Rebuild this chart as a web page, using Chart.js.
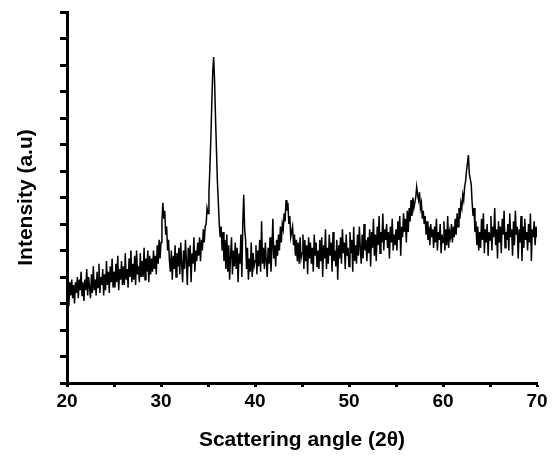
<!DOCTYPE html>
<html>
<head>
<meta charset="utf-8">
<script src="https://cdn.jsdelivr.net/npm/chart.js@4/dist/chart.umd.min.js"></script>
<style>
    html, body { margin: 0; padding: 0; background: #fff; }
    #wrap { width: 559px; height: 456px; }
</style>
</head>
<body>
<div id="wrap"><canvas id="xrdChart"></canvas></div>
<script>
// XRD pattern, one value every 0.1 degree from 20 to 70
const angleStart = 20;
const angleStep = 0.1;
const xTickLabels = [20, 30, 40, 50, 60, 70];

const intensity = [
    // 20
    3.1, 3.6, 2.9, 3.8, 3.3, 3.9, 3.2, 3.7, 3.0, 3.8,
    3.4, 4.0, 3.2, 3.9, 3.5, 4.2, 3.3, 3.8, 3.1, 3.9,
    3.5, 4.3, 3.3, 4.0, 3.6, 3.2, 4.1, 3.4, 4.4, 3.5,
    3.9, 3.3, 4.2, 3.6, 4.5, 3.4, 4.0, 3.7, 4.3, 3.3,
    4.1, 3.5, 4.6, 3.7, 4.2, 3.4, 4.4, 3.8, 4.7, 3.6,
    // 25
    4.2, 3.6, 4.5, 3.8, 4.8, 3.5, 4.3, 3.9, 4.6, 3.7,
    4.4, 3.7, 4.9, 3.9, 4.3, 3.6, 4.7, 4.0, 5.0, 3.8,
    4.5, 3.9, 4.8, 3.7, 5.0, 4.1, 4.4, 3.8, 4.9, 4.0,
    4.6, 4.0, 5.1, 3.9, 4.7, 4.2, 5.0, 3.8, 4.8, 4.1,
    4.7, 4.2, 5.0, 4.3, 4.8, 4.1, 5.2, 4.5, 5.4, 4.7,
    // 30
    5.3, 6.1, 6.8, 6.2, 6.5, 5.6, 5.9, 5.0, 5.4, 4.6,
    4.2, 5.0, 3.9, 4.8, 4.3, 5.2, 4.0, 4.9, 4.4, 5.1,
    4.1, 5.3, 4.5, 3.8, 5.0, 4.3, 5.4, 4.6, 3.7, 5.1,
    4.4, 5.2, 3.8, 4.9, 4.5, 5.5, 4.2, 5.0, 4.6, 5.3,
    4.8, 5.5, 4.6, 5.4, 5.0, 5.8, 5.3, 5.9, 6.0, 6.6,
    // 35
    6.4, 7.2, 8.1, 9.2, 10.5, 11.7, 12.3, 11.4, 10.0, 8.8,
    7.6, 6.8, 6.0, 5.5, 5.9, 5.0, 5.7, 4.6, 5.4, 4.3,
    5.6, 4.2, 5.2, 3.9, 4.8, 5.5, 4.1, 5.0, 4.4, 5.3,
    4.3, 5.1, 3.8, 4.9, 4.5, 5.6, 4.0, 6.0, 7.1, 5.8,
    5.4, 4.3, 5.1, 3.9, 4.7, 4.2, 5.3, 4.0, 4.9, 4.4,
    // 40
    4.6, 5.2, 4.1, 5.0, 4.4, 5.4, 4.2, 6.1, 4.5, 5.1,
    4.3, 5.3, 4.6, 4.0, 5.1, 4.5, 5.5, 4.2, 5.0, 6.2,
    4.7, 5.2, 4.4, 5.4, 4.8, 5.6, 5.0, 5.9, 5.3, 6.0,
    5.8, 6.4, 6.1, 6.9, 6.5, 6.8, 6.0, 6.3, 5.5, 5.7,
    5.9, 5.2, 5.6, 4.8, 5.4, 4.6, 5.3, 4.5, 5.5, 4.7,
    // 45
    4.9, 5.6, 4.3, 5.4, 4.6, 5.2, 4.1, 5.5, 4.7, 5.3,
    4.5, 5.1, 4.2, 5.6, 4.8, 5.3, 4.4, 5.0, 4.3, 5.4,
    4.6, 5.5, 4.0, 5.2, 4.7, 5.8, 4.3, 5.1, 4.5, 5.6,
    4.8, 5.3, 4.2, 5.7, 4.6, 5.0, 4.4, 5.4, 3.9, 5.2,
    4.7, 5.5, 4.5, 5.8, 4.9, 5.3, 4.3, 5.6, 4.8, 5.1,
    // 50
    4.4, 5.7, 4.9, 5.4, 4.2, 5.9, 4.6, 5.2, 4.5, 5.6,
    4.8, 5.9, 5.1, 4.5, 5.6, 4.7, 6.0, 5.0, 5.4, 4.6,
    5.5, 4.9, 5.8, 4.4, 5.7, 5.1, 6.2, 4.8, 5.6, 4.6,
    5.9, 5.2, 6.3, 4.9, 5.7, 5.3, 6.4, 5.0, 5.8, 5.4,
    6.0, 5.1, 5.7, 4.7, 5.9, 5.3, 6.2, 5.0, 5.6, 5.2,
    // 55
    5.8, 5.0, 6.1, 5.4, 6.3, 4.8, 5.9, 5.5, 6.4, 5.7,
    6.2, 5.3, 6.5, 5.7, 6.6, 6.1, 6.9, 6.3, 7.0, 6.6,
    6.8, 7.0, 7.4, 7.1, 6.9, 7.2, 6.6, 6.8, 6.2, 6.5,
    6.0, 6.3, 5.6, 6.1, 5.4, 5.9, 5.2, 6.0, 5.5, 5.8,
    5.1, 5.9, 5.3, 6.2, 5.0, 5.7, 5.4, 6.0, 4.9, 5.6,
    // 60
    5.3, 6.1, 5.0, 5.8, 5.2, 6.3, 5.1, 5.7, 5.5, 6.0,
    5.3, 5.9, 5.5, 6.2, 5.6, 6.4, 5.9, 6.6, 6.2, 6.8,
    6.6, 7.1, 6.9, 7.4, 7.6, 8.0, 8.3, 8.6, 7.9, 7.7,
    7.5, 6.8, 6.3, 6.6, 5.7, 6.1, 5.2, 5.9, 5.0, 5.7,
    5.1, 6.2, 5.4, 6.4, 4.9, 5.8, 5.3, 6.0, 4.8, 5.7,
    // 65
    5.4, 6.3, 5.0, 5.9, 5.5, 6.6, 5.2, 5.8, 4.7, 6.1,
    5.3, 5.9, 4.9, 6.2, 5.6, 6.5, 5.1, 5.7, 5.4, 6.0,
    5.0, 6.4, 5.5, 5.8, 4.8, 6.1, 5.2, 6.5, 5.6, 5.9,
    4.7, 5.8, 5.3, 6.3, 4.6, 5.9, 5.1, 6.2, 5.4, 5.7,
    5.0, 6.0, 5.3, 6.4, 4.6, 5.8, 5.5, 6.1, 5.2, 5.9,
    // 70
    5.5
];

const points = intensity.map((v, i) => ({ x: +(angleStart + i * angleStep).toFixed(1), y: v }));

const fontFamily = "'Liberation Sans', Arial, sans-serif";

new Chart(document.getElementById('xrdChart'), {
    type: 'line',
    data: {
        datasets: [{
            data: points,
            borderColor: '#000',
            borderWidth: 1.5,
            pointRadius: 0,
            tension: 0
        }]
    },
    options: {
        responsive: true,
        maintainAspectRatio: false,
        animation: false,
        layout: { padding: { top: 12, right: 22, left: 0, bottom: 0 } },
        plugins: {
            legend: { display: false },
            tooltip: { enabled: false }
        },
        scales: {
            x: {
                type: 'linear',
                min: 20,
                max: 70,
                border: { color: '#000', width: 3 },
                grid: { drawOnChartArea: false, color: '#000', tickLength: 4, tickWidth: 3 },
                ticks: {
                    stepSize: 5,
                    color: '#000',
                    padding: 3,
                    font: { family: fontFamily, size: 19, weight: 'bold' },
                    callback: (v) => xTickLabels.includes(v) ? String(v) : ''
                },
                title: {
                    display: true,
                    text: 'Scattering angle (2θ)',
                    color: '#000',
                    font: { family: fontFamily, size: 21, weight: 'bold' },
                    padding: { top: 3, bottom: 3 }
                },
                afterFit: (s) => { s.height = 73; }
            },
            y: {
                min: 0,
                max: 14,
                border: { color: '#000', width: 3 },
                grid: { drawOnChartArea: false, color: '#000', tickLength: 7, tickWidth: 3 },
                ticks: { stepSize: 1, display: false },
                title: {
                    display: true,
                    text: 'Intensity (a.u)',
                    color: '#000',
                    font: { family: fontFamily, size: 21, weight: 'bold' },
                    padding: { top: 14, bottom: 0 }
                },
                afterFit: (s) => { s.width = 67; }
            }
        }
    }
});
</script>
</body>
</html>
